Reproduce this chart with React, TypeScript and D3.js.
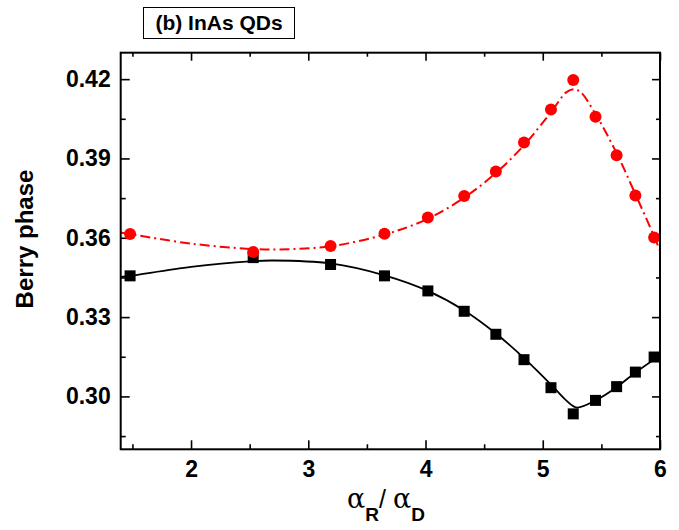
import React, { useRef, useEffect } from 'react';
import * as d3 from 'd3';

// alpha_R / alpha_D positions of the computed points
const ratios = [1.48, 2.53, 3.19, 3.65, 4.02, 4.33, 4.6, 4.84, 5.07, 5.26, 5.45, 5.63, 5.79, 5.95];
// Berry phase, red circles
const redValues = [0.3614, 0.3546, 0.3569, 0.3615, 0.3677, 0.3758, 0.3851, 0.396, 0.4085, 0.4197, 0.4058, 0.3912, 0.376, 0.3601];
// Berry phase, black squares
const blackValues = [0.3456, 0.3525, 0.3499, 0.3456, 0.3399, 0.3322, 0.3235, 0.3139, 0.3033, 0.2934, 0.2985, 0.3037, 0.3092, 0.3149];

// fitted curves
const redFitX = [1.4, 1.48, 2.0, 2.5, 2.75, 3.19, 3.65, 4.02, 4.33, 4.6, 4.84, 5.07, 5.2, 5.26, 5.32, 5.45, 5.63, 5.79, 5.95, 6.0];
const redFitY = [0.3620, 0.3614, 0.3578, 0.3558, 0.3556, 0.3568, 0.3612, 0.3672, 0.3752, 0.3845, 0.395, 0.4075, 0.415, 0.4162, 0.4152, 0.4068, 0.392, 0.3765, 0.3605, 0.355];
const blackFitX = [1.4, 1.48, 2.0, 2.5, 2.7, 3.19, 3.65, 4.02, 4.33, 4.6, 4.84, 5.07, 5.2, 5.29, 5.45, 5.63, 5.79, 6.0];
const blackFitY = [0.3452, 0.3456, 0.349, 0.3511, 0.3514, 0.3503, 0.3458, 0.3399, 0.3325, 0.3238, 0.3145, 0.3045, 0.2985, 0.2958, 0.2985, 0.3035, 0.309, 0.3155];

const xMajor = [2, 3, 4, 5, 6];
const xMinor = [1.5, 2.5, 3.5, 4.5, 5.5];
const yMajor = [0.3, 0.33, 0.36, 0.39, 0.42];
const yMinor = [0.285, 0.315, 0.345, 0.375, 0.405];

const W = 679;
const H = 530;
const FONT = '"Liberation Sans", Arial, sans-serif';
const GREEK = '"DejaVu Serif", "Liberation Serif", serif';

const App = () => {
  const ref = useRef<SVGSVGElement>(null);

  useEffect(() => {
    const margin = { top: 52.7, right: 19, bottom: 80.7, left: 120.7 };
    const cw = W - margin.left - margin.right;
    const ch = H - margin.top - margin.bottom;

    const root = d3.select(ref.current);
    root.selectAll('*').remove();

    const svg = root.append('g').attr('transform', `translate(${margin.left},${margin.top})`);

    const x = d3.scaleLinear().domain([1.4, 6.0]).range([0, cw]);
    const y = d3.scaleLinear().domain([0.28, 0.43]).range([ch, 0]);

    const styleAxis = (g: any) => {
      g.select('.domain').remove();
      g.selectAll('line').attr('stroke', '#000').attr('stroke-width', 1.6);
      g.selectAll('text')
        .attr('fill', '#000')
        .style('font-family', FONT)
        .style('font-weight', 'bold')
        .style('font-size', '23px');
    };

    // bottom
    svg.append('g').attr('transform', `translate(0,${ch})`)
      .call(d3.axisBottom(x).tickValues(xMajor).tickFormat(d3.format('d')).tickSizeInner(-9).tickSizeOuter(0).tickPadding(11))
      .call(styleAxis);
    svg.append('g').attr('transform', `translate(0,${ch})`)
      .call(d3.axisBottom(x).tickValues(xMinor).tickFormat(() => '').tickSizeInner(-5).tickSizeOuter(0))
      .call(styleAxis);
    // top
    svg.append('g')
      .call(d3.axisTop(x).tickValues(xMajor).tickFormat(() => '').tickSizeInner(-8).tickSizeOuter(0))
      .call(styleAxis);
    svg.append('g')
      .call(d3.axisTop(x).tickValues(xMinor).tickFormat(() => '').tickSizeInner(-4).tickSizeOuter(0))
      .call(styleAxis);
    // left
    svg.append('g')
      .call(d3.axisLeft(y).tickValues(yMajor).tickFormat(d3.format('.2f')).tickSizeInner(-9).tickSizeOuter(0).tickPadding(10))
      .call(styleAxis);
    svg.append('g')
      .call(d3.axisLeft(y).tickValues(yMinor).tickFormat(() => '').tickSizeInner(-5).tickSizeOuter(0))
      .call(styleAxis);
    // right
    svg.append('g').attr('transform', `translate(${cw},0)`)
      .call(d3.axisRight(y).tickValues(yMajor).tickFormat(() => '').tickSizeInner(-8).tickSizeOuter(0))
      .call(styleAxis);
    svg.append('g').attr('transform', `translate(${cw},0)`)
      .call(d3.axisRight(y).tickValues(yMinor).tickFormat(() => '').tickSizeInner(-4).tickSizeOuter(0))
      .call(styleAxis);

    const clip = svg.append('clipPath').attr('id', 'plot-clip');
    clip.append('rect').attr('width', cw).attr('height', ch);

    const line = d3.line<[number, number]>()
      .x(d => x(d[0]))
      .y(d => y(d[1]))
      .curve(d3.curveCatmullRom.alpha(0.5));

    const plot = svg.append('g').attr('clip-path', 'url(#plot-clip)');

    plot.append('path')
      .datum(blackFitX.map((v, i) => [v, blackFitY[i]] as [number, number]))
      .attr('d', line)
      .attr('fill', 'none')
      .attr('stroke', '#000')
      .attr('stroke-width', 1.8);

    plot.append('path')
      .datum(redFitX.map((v, i) => [v, redFitY[i]] as [number, number]))
      .attr('d', line)
      .attr('fill', 'none')
      .attr('stroke', '#ff0000')
      .attr('stroke-width', 2)
      .attr('stroke-dasharray', '10,4,2,4');

    const s = 11;
    svg.append('g').selectAll('rect')
      .data(ratios.map((v, i) => [v, blackValues[i]]))
      .enter()
      .append('rect')
      .attr('x', d => x(d[0]) - s / 2)
      .attr('y', d => y(d[1]) - s / 2)
      .attr('width', s)
      .attr('height', s)
      .attr('fill', '#000');

    svg.append('g').selectAll('circle')
      .data(ratios.map((v, i) => [v, redValues[i]]))
      .enter()
      .append('circle')
      .attr('cx', d => x(d[0]))
      .attr('cy', d => y(d[1]))
      .attr('r', 6)
      .attr('fill', '#ff0000');

    // frame
    svg.append('rect')
      .attr('width', cw)
      .attr('height', ch)
      .attr('fill', 'none')
      .attr('stroke', '#000')
      .attr('stroke-width', 2);

    // y title
    root.append('text')
      .attr('transform', `translate(33,239) rotate(-90)`)
      .attr('text-anchor', 'middle')
      .style('font-family', FONT)
      .style('font-weight', 'bold')
      .style('font-size', '24px')
      .text('Berry phase');

    // x title
    const xt = root.append('text')
      .attr('x', 386)
      .attr('y', 508)
      .attr('text-anchor', 'middle');
    xt.append('tspan').style('font-family', GREEK).style('font-size', '27px').text('α');
    xt.append('tspan').attr('dy', 13).style('font-family', FONT).style('font-weight', 'bold').style('font-size', '19px').text('R');
    xt.append('tspan').attr('dy', -13).style('font-family', FONT).style('font-size', '25px').text('/ ');
    xt.append('tspan').style('font-family', GREEK).style('font-size', '27px').text('α');
    xt.append('tspan').attr('dy', 13).style('font-family', FONT).style('font-weight', 'bold').style('font-size', '19px').text('D');

    // panel label
    root.append('rect')
      .attr('x', 143.5)
      .attr('y', 7.5)
      .attr('width', 151)
      .attr('height', 31)
      .attr('fill', 'none')
      .attr('stroke', '#000')
      .attr('stroke-width', 1);
    root.append('text')
      .attr('x', 219)
      .attr('y', 30)
      .attr('text-anchor', 'middle')
      .style('font-family', FONT)
      .style('font-weight', 'bold')
      .style('font-size', '21px')
      .text('(b) InAs QDs');
  }, []);

  return (
    <svg ref={ref} width={W} height={H} style={{ position: 'absolute', left: 0, top: 0, background: '#fff' }} />
  );
};

export default App;
